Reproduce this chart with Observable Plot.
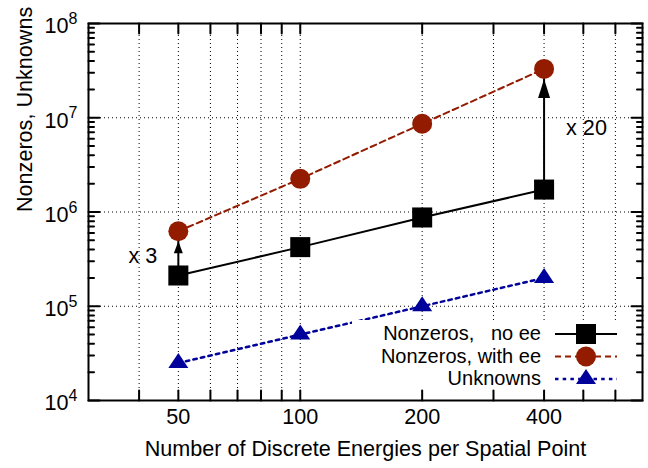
<!DOCTYPE html>
<html><head><meta charset="utf-8">
<script src="https://cdn.jsdelivr.net/npm/d3@7"></script>
<script src="https://cdn.jsdelivr.net/npm/@observablehq/plot@0.6"></script>
<style>
html,body{margin:0;padding:0;background:#fff;}
#chart svg{display:block;}
</style>
</head><body><div id="chart"></div>
<script>
// ---- data ----
const energies = [50, 100, 200, 400];
const nonzerosNoEE = [2.12e5, 4.24e5, 8.75e5, 1.73e6];
const nonzerosWithEE = [6.25e5, 2.25e6, 8.63e6, 3.3e7];
const unknowns = [2.5e4, 5e4, 1e5, 2e5];
const seriesNames = ["Nonzeros,   no ee", "Nonzeros, with ee", "Unknowns"];
const ratioIndex = [0, 3];
const ratioLabels = ["x 3", "x 20"];
const xTickLabels = [50, 100, 200, 400];
const xTickMarks = [40, 50, 60, 70, 80, 90, 100, 200, 300, 400, 500, 600];
const yDecades = [1e4, 1e5, 1e6, 1e7, 1e8];
const yExponents = ["4", "5", "6", "7", "8"];
const yMinorMultipliers = [2, 3, 4, 5, 6, 7, 8, 9];
const yGridLines = [1e5, 1e6, 1e7];
const xTitle = "Number of Discrete Energies per Spatial Point";
const yTitle = "Nonzeros, Unknowns";

// ---- styles ----
const W = 648, H = 468;
const mL = 88, mR = 6, mT = 23, mB = 68;
const fs = 21.6, legendFs = 20;
const font = "'Liberation Sans', Arial, Helvetica, sans-serif";
const black = "#000000", red = "#931b00", blue = "#00009a";

const yMinor = yDecades.slice(0, -1).flatMap(d => yMinorMultipliers.map(m => d * m));

const seriesA = energies.map((x, i) => ({x, y: nonzerosNoEE[i]}));
const seriesB = energies.map((x, i) => ({x, y: nonzerosWithEE[i]}));
const seriesC = energies.map((x, i) => ({x, y: unknowns[i]}));

const tickShape = {draw(ctx, l) { ctx.moveTo(0, 0); ctx.lineTo(0, -l); }};
const triShape = {draw(ctx, size) {
  const r = Math.sqrt(size / Math.PI);
  ctx.moveTo(0, -r); ctx.lineTo(r, r / 2); ctx.lineTo(-r, r / 2); ctx.closePath();
}};
const headShape = (h, w) => ({draw(ctx) {
  ctx.moveTo(0, 0); ctx.lineTo(w / 2, h); ctx.lineTo(-w / 2, h); ctx.closePath();
}});

const gridStyle = {stroke: "#000", strokeWidth: 1, strokeDasharray: "1,3"};
const geo = i => Math.sqrt(nonzerosNoEE[ratioIndex[i]] * nonzerosWithEE[ratioIndex[i]]);

const chart = Plot.plot({
  width: W, height: H,
  marginLeft: mL, marginRight: mR, marginTop: mT, marginBottom: mB,
  style: {fontFamily: font, fontSize: fs + "px", color: "#000", background: "#fff"},
  x: {type: "log", domain: [30, 700], axis: null},
  y: {type: "log", domain: [1e4, 1e8], axis: null},
  marks: [
    Plot.ruleX(xTickMarks, {x: d => d, ...gridStyle}),
    Plot.ruleY(yGridLines, {y: d => d, ...gridStyle}),
    Plot.line(seriesA, {x: "x", y: "y", stroke: black, strokeWidth: 2}),
    Plot.line(seriesB, {x: "x", y: "y", stroke: red, strokeWidth: 2, strokeDasharray: "6,4"}),
    Plot.line(seriesC, {x: "x", y: "y", stroke: blue, strokeWidth: 2.5, strokeDasharray: "3.5,4.2"}),
    Plot.ruleX(ratioIndex, {x: i => energies[i], y1: i => nonzerosNoEE[i], y2: i => nonzerosWithEE[i], stroke: black, strokeWidth: 2}),
    Plot.dot([ratioIndex[0]], {x: i => energies[i], y: i => nonzerosWithEE[i], dy: 10, r: 5, symbol: headShape(12, 9), fill: black, stroke: "none"}),
    Plot.dot([ratioIndex[1]], {x: i => energies[i], y: i => nonzerosWithEE[i], dy: 10, r: 5, symbol: headShape(19, 12), fill: black, stroke: "none"}),
    Plot.dot(seriesA, {x: "x", y: "y", symbol: "square", r: 11.3, fill: black, stroke: "none"}),
    Plot.dot(seriesB, {x: "x", y: "y", symbol: "circle", r: 10, fill: red, stroke: "none"}),
    Plot.dot(seriesC, {x: "x", y: "y", symbol: triShape, r: 10, fill: blue, stroke: "none"}),
    Plot.text([0], {x: i => energies[ratioIndex[i]], y: geo, text: i => ratioLabels[i], textAnchor: "end", dx: -21, dy: 3, fontSize: fs, fill: "#000"}),
    Plot.text([1], {x: i => energies[ratioIndex[i]], y: geo, text: i => ratioLabels[i], textAnchor: "start", dx: 22, dy: -1, fontSize: fs, fill: "#000"}),
    Plot.frame({stroke: "#000", strokeWidth: 2}),
    // ticks (inward)
    Plot.vector(xTickMarks, {x: d => d, frameAnchor: "bottom", length: 10, anchor: "start", rotate: 0, shape: tickShape, stroke: "#000", strokeWidth: 2}),
    Plot.vector(xTickMarks, {x: d => d, frameAnchor: "top", length: 10, anchor: "start", rotate: 180, shape: tickShape, stroke: "#000", strokeWidth: 2}),
    Plot.vector(yDecades, {y: d => d, frameAnchor: "left", length: 11, anchor: "start", rotate: 90, shape: tickShape, stroke: "#000", strokeWidth: 2}),
    Plot.vector(yDecades, {y: d => d, frameAnchor: "right", length: 11, anchor: "start", rotate: -90, shape: tickShape, stroke: "#000", strokeWidth: 2}),
    Plot.vector(yMinor, {y: d => d, frameAnchor: "left", length: 5.5, anchor: "start", rotate: 90, shape: tickShape, stroke: "#000", strokeWidth: 2}),
    Plot.vector(yMinor, {y: d => d, frameAnchor: "right", length: 5.5, anchor: "start", rotate: -90, shape: tickShape, stroke: "#000", strokeWidth: 2}),
    // tick labels
    Plot.text(xTickLabels, {x: d => d, frameAnchor: "bottom", dy: 23, text: d => String(d), fontSize: fs, fill: "#000"}),
    Plot.text(yDecades, {y: d => d, frameAnchor: "left", dx: -20, dy: 3, textAnchor: "end", text: () => "10", fontSize: fs, fill: "#000"}),
    Plot.text(yDecades, {y: d => d, frameAnchor: "left", dx: -11, dy: -4.6, textAnchor: "end", text: (d, i) => yExponents[i], fontSize: 16, fill: "#000"}),
    // titles
    Plot.text([xTitle], {frameAnchor: "bottom", dy: 55, text: d => d, fontSize: fs, fill: "#000"}),
    Plot.text([yTitle], {frameAnchor: "left", dx: -63, rotate: -90, text: d => d, fontSize: fs, fill: "#000"})
  ]
});
document.getElementById("chart").appendChild(chart);

// ---- legend (inside plot, bottom right, opaque box) ----
const frameRight = W - mR, frameBottom = H - mB;
const svg = d3.select(chart);
const lg = svg.append("g").attr("font-family", font).attr("font-size", legendFs);
lg.append("rect")
  .attr("x", frameRight - 290).attr("y", frameBottom - 80)
  .attr("width", 284).attr("height", 69).attr("fill", "#fff");
const legendDefs = [
  {stroke: black, width: 2, dash: null, fill: black, sym: d3.symbol().type(d3.symbolSquare).size(Math.PI * 11.3 * 11.3)()},
  {stroke: red, width: 2, dash: "6,4", fill: red, sym: d3.symbol().type(d3.symbolCircle).size(Math.PI * 100)()},
  {stroke: blue, width: 2.5, dash: "3.5,4.2", fill: blue, sym: d3.symbol().type(triShape).size(Math.PI * 100)()}
];
const rowY = [frameBottom - 66, frameBottom - 43.5, frameBottom - 21];
const textRight = frameRight - 101, lineX1 = frameRight - 87, lineX2 = frameRight - 25, markX = frameRight - 56;
seriesNames.forEach((name, i) => {
  const d = legendDefs[i];
  lg.append("text").attr("x", textRight).attr("y", rowY[i]).attr("dy", "0.32em")
    .attr("text-anchor", "end").attr("xml:space", "preserve").style("white-space", "pre")
    .attr("fill", "#000").text(name);
  const ln = lg.append("line").attr("x1", lineX1).attr("x2", lineX2).attr("y1", rowY[i]).attr("y2", rowY[i])
    .attr("stroke", d.stroke).attr("stroke-width", d.width);
  if (d.dash) ln.attr("stroke-dasharray", d.dash);
  lg.append("path").attr("d", d.sym).attr("transform", `translate(${markX},${rowY[i]})`).attr("fill", d.fill);
});
</script>
</body></html>
